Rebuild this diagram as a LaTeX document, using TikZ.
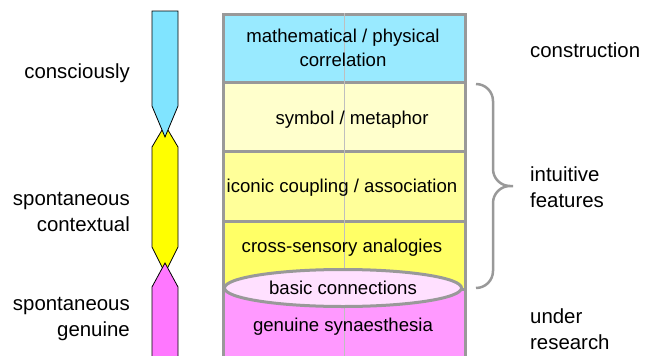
\documentclass[tikz,border=0pt]{standalone}
\usepackage{fontspec}
\setmainfont{Liberation Sans}
\usetikzlibrary{shapes.geometric}
\definecolor{arrowcyan}{HTML}{80E4FF}
\definecolor{arrowyellow}{HTML}{FFFF00}
\definecolor{arrowpink}{HTML}{FF77FF}
\definecolor{rowcyan}{HTML}{99EAFF}
\definecolor{rowpale}{HTML}{FFFFCC}
\definecolor{rowlight}{HTML}{FFFF99}
\definecolor{rowyellow}{HTML}{FFFF66}
\definecolor{rowpink}{HTML}{FF99FF}
\definecolor{basicpink}{HTML}{FFE0FF}
\begin{document}
\begin{tikzpicture}[x=1pt, y=-1pt,
	row/.style={rectangle, draw=black!40, line width=3pt, minimum width=242pt, anchor=north west, inner sep=0pt},
	boxtext/.style={font=\fontsize{18.6}{23.5}\selectfont, align=center, inner sep=0pt},
	sidetext/.style={font=\fontsize{20.4}{26}\selectfont, inner sep=0pt},
	arrowpart/.style={draw=black, line width=0.8pt, line join=miter}]
	\useasboundingbox (0,0) rectangle (656,356);
	\clip (0,0) rectangle (656,356);

	\draw[arrowpart, fill=arrowyellow] (165,125) -- (178,147) -- (178,247) -- (165,273) -- (152,247) -- (152,147) -- cycle;
	\draw[arrowpart, fill=arrowcyan] (152,11) -- (178,11) -- (178,106) -- (165,137) -- (152,106) -- cycle;
	\draw[arrowpart, fill=arrowpink] (165,263) -- (178,287) -- (178,380) -- (152,380) -- (152,287) -- cycle;

	\node[row, fill=rowcyan, minimum height=68pt](math) at (222,13){};
	\node[row, fill=rowpale, minimum height=69pt](symbol) at (222,81){};
	\node[row, fill=rowlight, minimum height=70pt](iconic) at (222,150){};
	\node[row, fill=rowyellow, minimum height=68pt](cross) at (222,220){};
	\node[row, fill=rowpink, minimum height=90pt](genuine) at (222,288){};
	\draw[black!25, line width=1.5pt] (math.north) -- (genuine.south);
	\node[ellipse, draw=black!40, line width=3pt, fill=basicpink, minimum width=237pt, minimum height=37pt, boxtext](basic) at (343,288){basic connections};

	\node[boxtext](mathtext) at (343,48){mathematical / physical\\correlation};
	\node[boxtext](symboltext) at (352,120){symbol / metaphor};
	\node[boxtext](iconictext) at (342,188){iconic coupling / association};
	\node[boxtext](crosstext) at (342,248){cross-sensory analogies};
	\node[boxtext](genuinetext) at (343,327){genuine synaesthesia};

	\draw[black!40, line width=2.5pt, rounded corners=17pt] (476,84) -- (493,84) -- (493,186) -- (513,186) (513,186) -- (493,186) -- (493,288) -- (476,288);

	\node[sidetext, anchor=east, align=right](consc) at (130,73){consciously};
	\node[sidetext, anchor=east, align=right](spcontext) at (130,212){spontaneous\\contextual};
	\node[sidetext, anchor=east, align=right](spgenuine) at (130,319){spontaneous\\genuine};

	\node[sidetext, anchor=west](constr) at (530,50){construction};
	\node[sidetext, anchor=west, align=left](intuit) at (530,187){intuitive\\features};
	\node[sidetext, anchor=west, align=left](under) at (530,329){under\\research};
\end{tikzpicture}
\end{document}
